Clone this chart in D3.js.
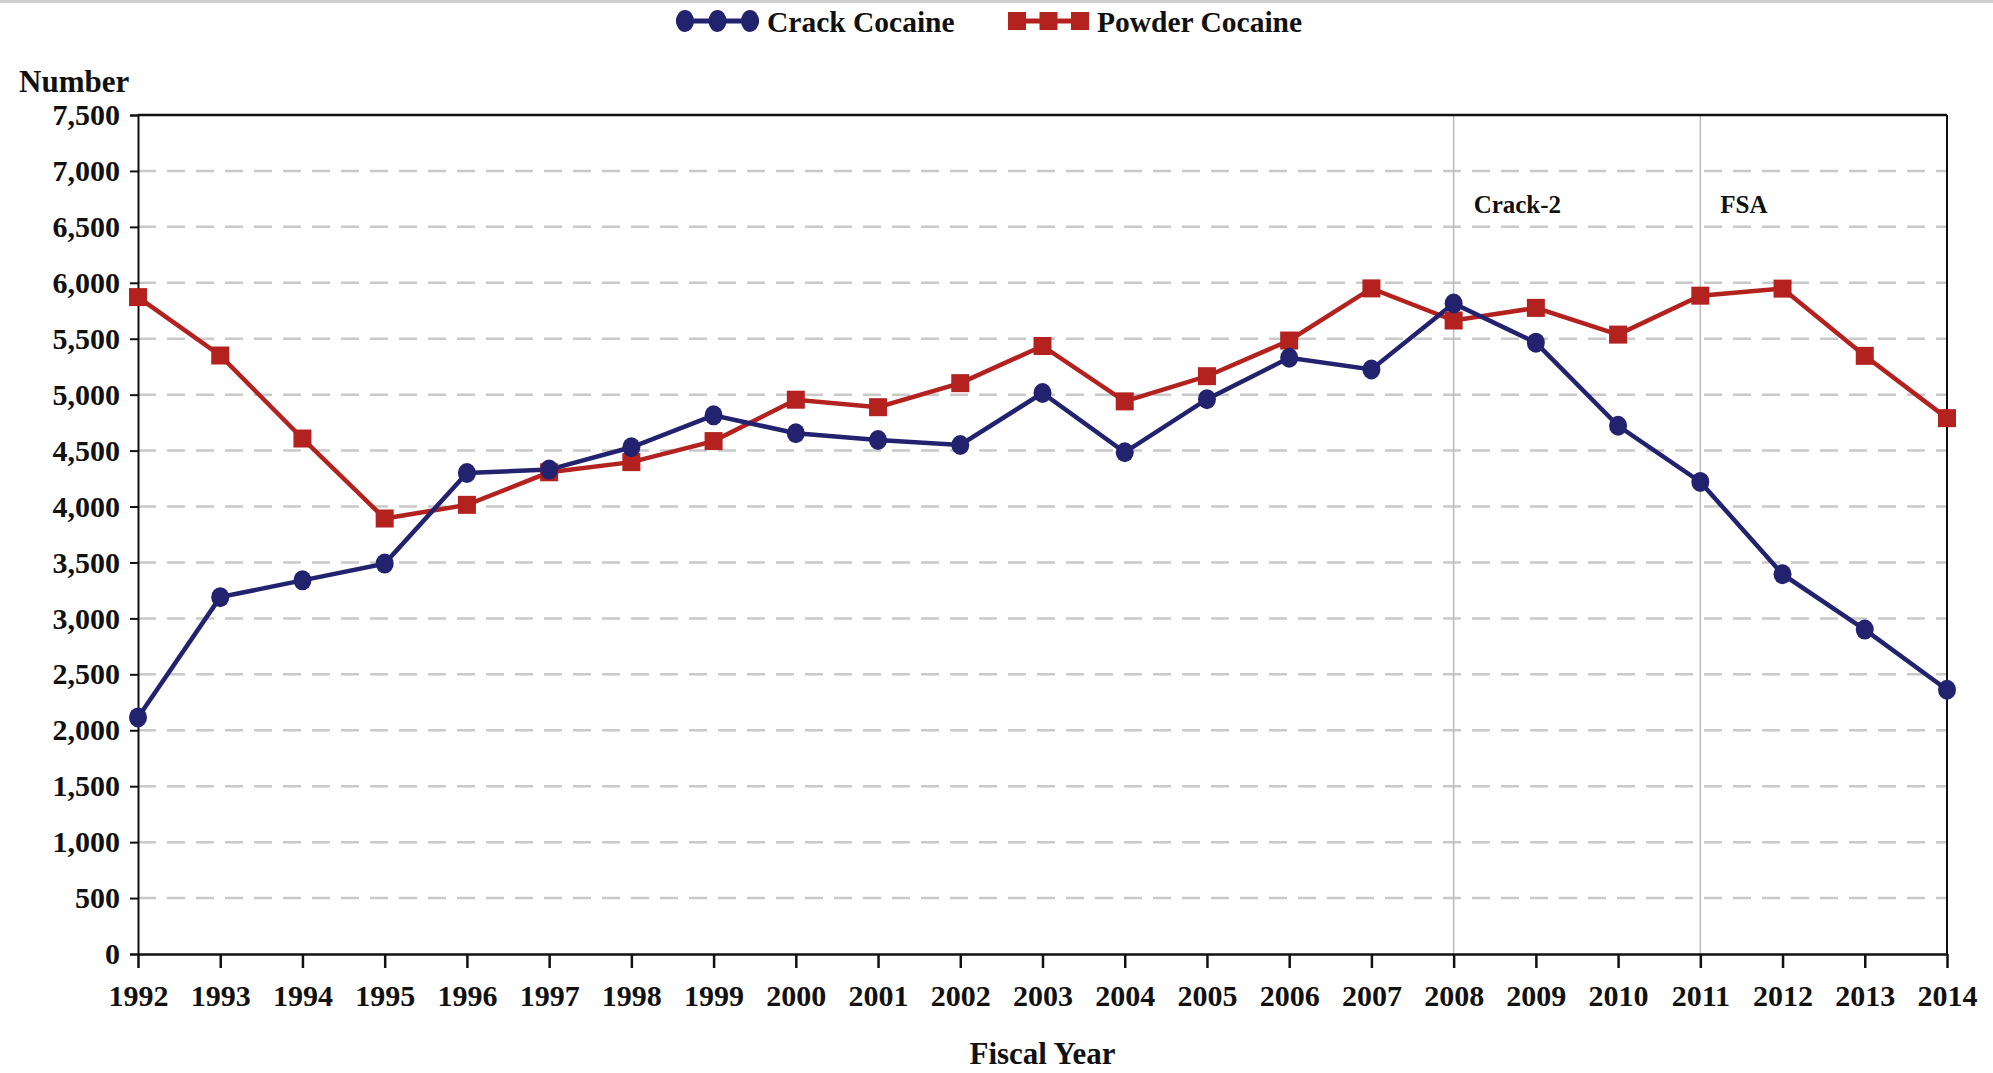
<!DOCTYPE html>
<html>
<head>
<meta charset="utf-8">
<script src="https://cdn.jsdelivr.net/npm/d3@7"></script>
<style>
  body { margin: 0; background: #fff; }
  text { font-family: "Liberation Serif", "Times New Roman", serif; font-weight: bold; fill: #111; }
</style>
</head>
<body>
<div id="chart"></div>
<script>
// Donnees
const years = [1992, 1993, 1994, 1995, 1996, 1997, 1998, 1999, 2000, 2001, 2002,
               2003, 2004, 2005, 2006, 2007, 2008, 2009, 2010, 2011, 2012, 2013, 2014];
const crack = [2115, 3190, 3340, 3490, 4300, 4330, 4530, 4815, 4655, 4595, 4550,
               5015, 4485, 4960, 5330, 5225, 5815, 5465, 4722, 4220, 3395, 2900, 2362];
const powder = [5872, 5350, 4608, 3893, 4015, 4306, 4397, 4585, 4955, 4888, 5103,
                5435, 4940, 5165, 5484, 5950, 5663, 5776, 5537, 5885, 5948, 5347, 4790];
const yTicks = [0, 500, 1000, 1500, 2000, 2500, 3000, 3500, 4000, 4500, 5000, 5500, 6000, 6500, 7000, 7500];
const events = [{year: 2008, label: "Crack-2"}, {year: 2011, label: "FSA"}];
const seriesNames = ["Crack Cocaine", "Powder Cocaine"];

const W = 1993, H = 1073;
const margin = {top: 115, right: 46, bottom: 119, left: 138},
    width = W - margin.left - margin.right,
    height = H - margin.top - margin.bottom;

const navy = "#23226f", red = "#b3221f";

const root = d3.select("#chart")
    .append("svg")
    .attr("width", W)
    .attr("height", H);

// bande grise en haut
root.append("rect").attr("x", 0).attr("y", 0).attr("width", W).attr("height", 3).attr("fill", "#cfcfcf");

const svg = root.append("g")
    .attr("transform", `translate(${margin.left},${margin.top})`);

const x = d3.scaleLinear().domain([1992, 2014]).range([0, width]);
const y = d3.scaleLinear().domain([0, 7500]).range([height, 0]);

// grille pointillee
svg.append("g")
    .selectAll("line")
    .data(yTicks.filter(d => d > 0 && d < 7500))
    .join("line")
    .attr("x1", 0).attr("x2", width)
    .attr("y1", d => y(d)).attr("y2", d => y(d))
    .attr("stroke", "#c9c9c9")
    .attr("stroke-width", 2.5)
    .attr("stroke-dasharray", "18,11");

// lignes verticales des evenements
svg.append("g")
    .selectAll("line")
    .data(events)
    .join("line")
    .attr("x1", d => x(d.year)).attr("x2", d => x(d.year))
    .attr("y1", 0).attr("y2", height)
    .attr("stroke", "#bdbdbd")
    .attr("stroke-width", 1.6);

svg.append("g")
    .selectAll("text")
    .data(events)
    .join("text")
    .attr("x", d => x(d.year) + 20)
    .attr("y", 98)
    .attr("font-size", "25px")
    .text(d => d.label);

// cadre haut et droite
svg.append("line").attr("x1", 0).attr("x2", width).attr("y1", 0).attr("y2", 0)
    .attr("stroke", "#111").attr("stroke-width", 2.5);
svg.append("line").attr("x1", width).attr("x2", width).attr("y1", 0).attr("y2", height)
    .attr("stroke", "#111").attr("stroke-width", 2);

// Axe Y
const yAxis = svg.append("g")
    .call(d3.axisLeft(y).tickValues(yTicks).tickFormat(d3.format(",")).tickSize(8).tickPadding(10));
yAxis.selectAll("text").attr("font-size", "30px").style("font-family", "Liberation Serif").style("font-weight", "bold").attr("fill", "#111");
yAxis.selectAll("line, path").attr("stroke", "#111").attr("stroke-width", 2);

// Axe X
const xAxis = svg.append("g")
    .attr("transform", `translate(0,${height})`)
    .call(d3.axisBottom(x).tickValues(years).tickFormat(d3.format("d")).tickSize(14).tickSizeOuter(0).tickPadding(17));
xAxis.selectAll("text").attr("font-size", "30px").style("font-family", "Liberation Serif").style("font-weight", "bold").attr("fill", "#111");
xAxis.selectAll("line, path").attr("stroke", "#111").attr("stroke-width", 2.5);

// titres des axes
root.append("text").attr("x", 19).attr("y", 92).attr("font-size", "31px").text("Number");
root.append("text").attr("x", margin.left + width / 2).attr("y", 1064)
    .attr("text-anchor", "middle").attr("font-size", "31px").text("Fiscal Year");

// Lignes
const line = d3.line().x((d, i) => x(years[i])).y(d => y(d));

svg.append("path").datum(powder)
    .attr("fill", "none").attr("stroke", red).attr("stroke-width", 4.5)
    .attr("d", line);
svg.append("path").datum(crack)
    .attr("fill", "none").attr("stroke", navy).attr("stroke-width", 4.5)
    .attr("d", line);

svg.append("g").selectAll("rect")
    .data(powder)
    .join("rect")
    .attr("x", (d, i) => x(years[i]) - 9)
    .attr("y", d => y(d) - 9)
    .attr("width", 18).attr("height", 18)
    .attr("fill", red);

svg.append("g").selectAll("ellipse")
    .data(crack)
    .join("ellipse")
    .attr("cx", (d, i) => x(years[i]))
    .attr("cy", d => y(d))
    .attr("rx", 9).attr("ry", 10)
    .attr("fill", navy);

// Legende
const legend = root.append("g");
const lg = [
  {name: seriesNames[0], color: navy, x0: 676, x1: 759, tx: 767, shape: "circle"},
  {name: seriesNames[1], color: red, x0: 1008, x1: 1089, tx: 1097, shape: "square"}
];
lg.forEach(function(d) {
  legend.append("line").attr("x1", d.x0).attr("x2", d.x1).attr("y1", 21).attr("y2", 21)
      .attr("stroke", d.color).attr("stroke-width", 5);
  [d.x0 + 9, (d.x0 + d.x1) / 2, d.x1 - 9].forEach(function(cx) {
    if (d.shape === "circle") {
      legend.append("ellipse").attr("cx", cx).attr("cy", 21).attr("rx", 9).attr("ry", 11).attr("fill", d.color);
    } else {
      legend.append("rect").attr("x", cx - 9).attr("y", 12).attr("width", 18).attr("height", 18).attr("fill", d.color);
    }
  });
  legend.append("text").attr("x", d.tx).attr("y", 32).attr("font-size", "29.5px").text(d.name);
});
</script>
</body>
</html>
